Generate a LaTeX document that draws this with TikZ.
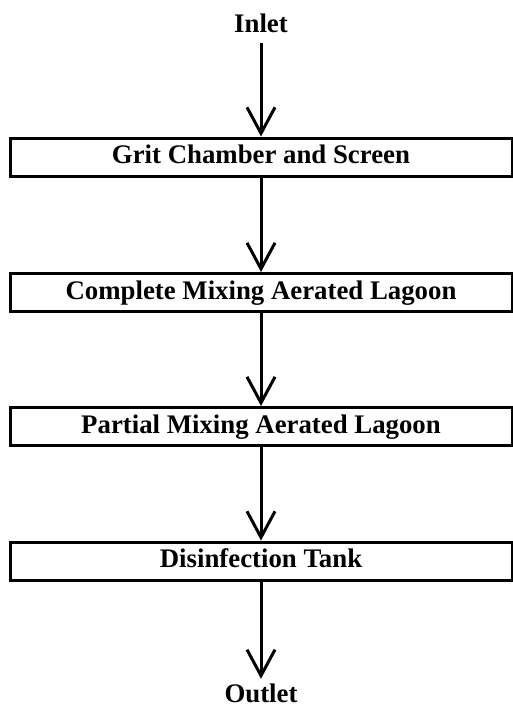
\documentclass[tikz,border=0pt]{standalone}
\usepackage{fontspec}
\setmainfont{Liberation Serif}
\usetikzlibrary{arrows.meta}

\begin{document}
\begin{tikzpicture}[x=1pt,y=-1pt,
  stage/.style={draw,line width=3pt,minimum width=502pt,minimum height=38pt,inner sep=0pt,
    font=\fontsize{26.8}{30}\selectfont\bfseries,text height=18pt,text depth=5pt},
  flow/.style={line width=3pt,-{Straight Barb[length=26pt,width=28pt,line width=3pt]}},
  term/.style={font=\fontsize{26.8}{30}\selectfont\bfseries,text height=18pt,text depth=0pt,inner xsep=0pt}]
\useasboundingbox (0,0) rectangle (513,707);
% plant stages
\node[term,inner ysep=11pt,anchor=base] (inlet) at (261,32) {Inlet};
\node[stage] (grit) at (261,157) {Grit Chamber and Screen};
\node[stage] (cmal) at (261,292.5) {Complete Mixing Aerated Lagoon};
\node[stage] (pmal) at (261,426.5) {Partial Mixing Aerated Lagoon};
\node[stage] (dis) at (261,561) {Disinfection Tank};
\node[term,inner ysep=5pt,anchor=base] (outlet) at (261,702) {Outlet};

\draw[flow] (inlet)--(grit);
\draw[flow] (grit)--(cmal);
\draw[flow] (cmal)--(pmal);
\draw[flow] (pmal)--(dis);
\draw[flow] (dis)--(outlet);
\end{tikzpicture}
\end{document}
